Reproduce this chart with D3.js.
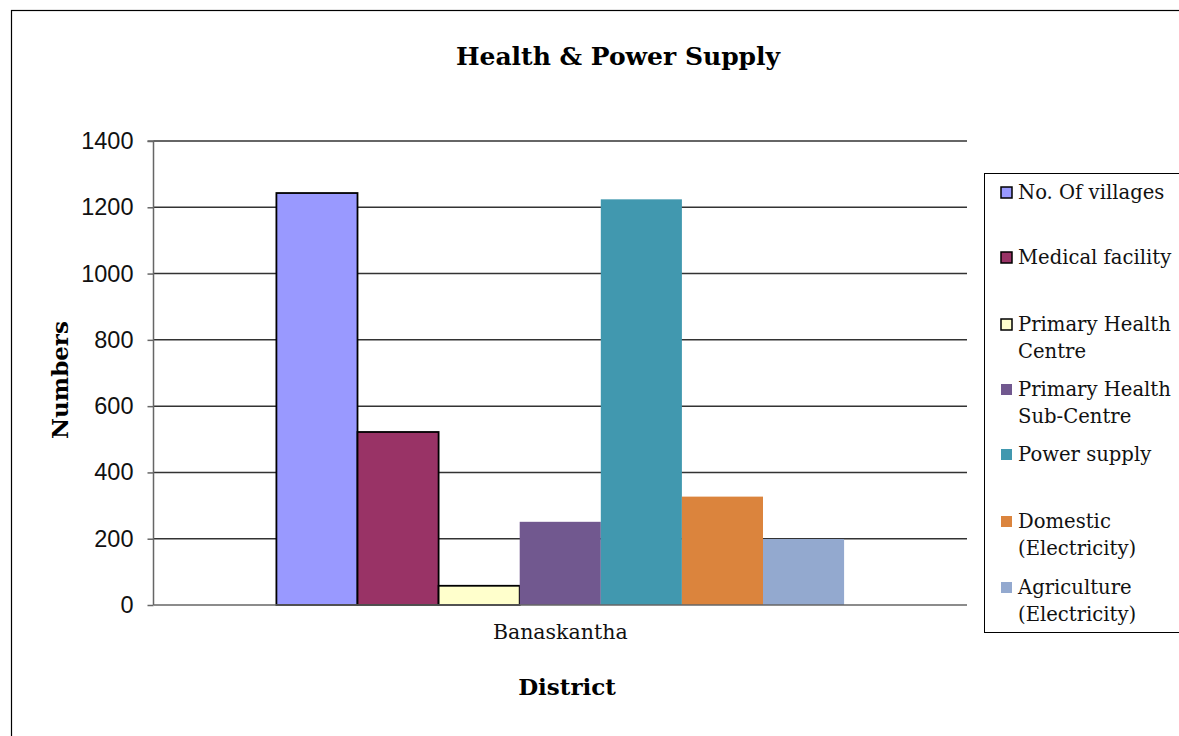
<!DOCTYPE html>
<html><head><meta charset="utf-8">
<script src="https://cdn.jsdelivr.net/npm/d3@7"></script>
<style>body{margin:0;background:#fff}svg{display:block}</style>
</head><body><svg id="c" width="1179" height="736"></svg>
<script>
const categories = ["Banaskantha"];
const seriesNames = ["No. Of villages","Medical facility","Primary Health Centre","Primary Health Sub-Centre","Power supply","Domestic (Electricity)","Agriculture (Electricity)"];
const legendLines = [["No. Of villages"],["Medical facility"],["Primary Health","Centre"],["Primary Health","Sub-Centre"],["Power supply"],["Domestic","(Electricity)"],["Agriculture","(Electricity)"]];
const values = [1243, 522, 58, 251, 1224, 327, 199];
const colors = ["#9999FF","#993366","#FFFFCC","#71588F","#4198AF","#DB843D","#93A9CF"];
const outlined = [true,true,true,false,false,false,false];
const yTicks = [0,200,400,600,800,1000,1200,1400];

const svg = d3.select("#c");
const serif = "'DejaVu Serif','Liberation Serif',serif";
const sans = "'Liberation Sans',Arial,sans-serif";

// outer frame
svg.append("rect").attr("x",11.5).attr("y",10.5).attr("width",1200).attr("height",800)
  .attr("fill","none").attr("stroke","#000").attr("stroke-width",1.2);

const L=153.5, R=967, T=141, B=605;
const x0 = d3.scaleBand().domain(categories).range([L,R]).paddingInner(0).paddingOuter(0.2165);
const x1 = d3.scaleBand().domain(d3.range(values.length)).range([0,x0.bandwidth()]);
const y = d3.scaleLinear().domain([0,1400]).range([B,T]);

// gridlines
svg.append("g").selectAll("line").data(yTicks.filter(d=>d>0)).join("line")
  .attr("x1",L).attr("x2",R).attr("y1",d=>y(d)).attr("y2",d=>y(d))
  .attr("stroke","#333").attr("stroke-width",1.5);

// bars
const g = svg.append("g");
categories.forEach(cat=>{
  g.selectAll("rect.b").data(values).join("rect").attr("class","b")
    .attr("x",(d,i)=>x0(cat)+x1(i))
    .attr("width",x1.bandwidth())
    .attr("y",d=>y(d)).attr("height",d=>y(0)-y(d))
    .attr("fill",(d,i)=>colors[i])
    .attr("stroke",(d,i)=>outlined[i]?"#000":"none")
    .attr("stroke-width",1.8);
});

// y axis
const ya = svg.append("g").attr("transform",`translate(${L},0)`)
  .call(d3.axisLeft(y).tickValues(yTicks).tickSize(6).tickPadding(14).tickFormat(d3.format("d")));
ya.select(".domain").attr("stroke","#666").attr("stroke-width",1.5).attr("d",`M-6,${T}H0V${B}`);
ya.selectAll(".tick line").attr("stroke","#666").attr("stroke-width",1.5);
ya.selectAll(".tick text").attr("font-family",sans).attr("font-size",23.5).attr("fill","#111");

// x axis
const xa = svg.append("g").attr("transform",`translate(0,${B})`)
  .call(d3.axisBottom(x0).tickSize(0).tickPadding(19));
xa.select(".domain").attr("stroke","#666").attr("stroke-width",1.5).attr("d",`M${L},0H${R}`);
xa.selectAll(".tick text").attr("font-family",serif).attr("font-size",20.5).attr("fill","#111").attr("dx",0);

// titles
svg.append("text").attr("x",618).attr("y",65).attr("text-anchor","middle")
  .attr("font-family",serif).attr("font-weight","bold").attr("font-size",25).text("Health & Power Supply");
svg.append("text").attr("transform","translate(68,380) rotate(-90)").attr("text-anchor","middle")
  .attr("font-family",serif).attr("font-weight","bold").attr("font-size",23).text("Numbers");
svg.append("text").attr("x",567).attr("y",695).attr("text-anchor","middle")
  .attr("font-family",serif).attr("font-weight","bold").attr("font-size",23).text("District");

// legend
svg.append("rect").attr("x",984.5).attr("y",173.5).attr("width",300).attr("height",459)
  .attr("fill","#fff").attr("stroke","#000").attr("stroke-width",1);
const legY = [199,264,331,396,461,528,594];
const lg = svg.append("g").selectAll("g").data(seriesNames).join("g")
  .attr("transform",(d,i)=>`translate(0,${legY[i]})`);
lg.append("rect").attr("x",1001).attr("y",-12).attr("width",11).attr("height",11)
  .attr("fill",(d,i)=>colors[i])
  .attr("stroke",(d,i)=>outlined[i]?"#000":"none").attr("stroke-width",1.5);
lg.each(function(d,i){
  const t = d3.select(this).append("text").attr("x",1018).attr("y",0)
    .attr("font-family",serif).attr("font-size",19.6).attr("fill","#111");
  legendLines[i].forEach((ln,j)=>t.append("tspan").attr("x",1018).attr("dy",j?27:0).text(ln));
});
</script></body></html>
